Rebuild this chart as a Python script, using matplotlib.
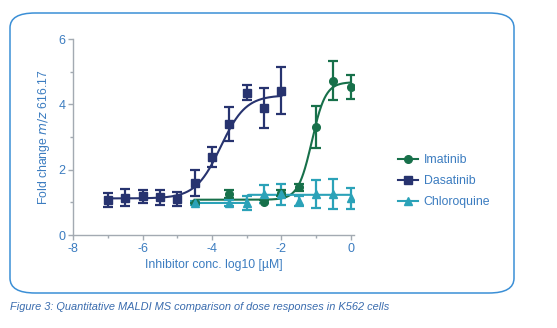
import numpy as np
import matplotlib
matplotlib.use("Agg")
import matplotlib.pyplot as plt
from matplotlib.patches import FancyBboxPatch
from matplotlib.ticker import MultipleLocator

plt.rcParams["font.family"] = ["Liberation Sans", "DejaVu Sans"]
plt.rcParams["axes.unicode_minus"] = False

# Dasatinib
das_x = [-7, -6.5, -6, -5.5, -5, -4.5, -4, -3.5, -3, -2.5, -2]
das_y = [1.08, 1.14, 1.18, 1.15, 1.10, 1.60, 2.38, 3.40, 4.36, 3.88, 4.42]
das_err = [0.22, 0.26, 0.20, 0.22, 0.22, 0.40, 0.30, 0.53, 0.23, 0.61, 0.72]
das_fit = [1.12, 4.28, -3.75, 1.2]  # bottom, top, logEC50, hill

# Imatinib
ima_x = [-4.5, -3.5, -2.5, -2, -1.5, -1, -0.5, 0]
ima_y = [0.99, 1.25, 1.02, 1.28, 1.46, 3.30, 4.72, 4.53]
ima_err = [0.03, 0.12, 0.04, 0.10, 0.10, 0.64, 0.60, 0.36]
ima_fit = [1.08, 4.68, -1.12, 2.2]

# Chloroquine
chl_x = [-4.5, -3.5, -3, -2.5, -2, -1.5, -1, -0.5, 0]
chl_y = [0.98, 0.98, 0.98, 1.25, 1.25, 1.05, 1.25, 1.25, 1.12]
chl_err = [0.05, 0.08, 0.22, 0.27, 0.32, 0.15, 0.42, 0.45, 0.32]
chl_fit = [0.98, 1.23, -3.0, 40]

c_das = "#27336f"
c_ima = "#17704a"
c_chl = "#2ba2b8"
c_txt = "#3b7cc0"
c_axis = "#a3aab2"


def sigmoid(x, p):
    bottom, top, ec50, hill = p
    return bottom + (top - bottom) / (1 + 10 ** ((ec50 - x) * hill))


fig = plt.figure(figsize=(5.57, 3.28), dpi=100)

# rounded frame around the chart
frame = FancyBboxPatch((10 / 557, 1 - 293 / 328), 504 / 557, 280 / 328,
                       boxstyle="round,pad=0,rounding_size=0.045",
                       transform=fig.transFigure, fill=False,
                       edgecolor="#3b8fd6", linewidth=1.1)
fig.patches.append(frame)

ax = fig.add_axes([73.3 / 557, 1 - 235 / 328, 280.9 / 557, 196 / 328])

series = [
    ("Imatinib", ima_x, ima_y, ima_err, ima_fit, c_ima, "o", 5.5),
    ("Dasatinib", das_x, das_y, das_err, das_fit, c_das, "s", 5.5),
    ("Chloroquine", chl_x, chl_y, chl_err, chl_fit, c_chl, "^", 5.5),
]

handles = []
for name, x, y, err, fit, col, mk, ms in series:
    xs = np.linspace(min(x), max(x), 400)
    ax.plot(xs, sigmoid(xs, fit), color=col, lw=1.5, zorder=2)
    ax.errorbar(x, y, yerr=err, fmt=mk, color=col, ms=ms, elinewidth=1.6,
                capsize=3.5, capthick=1.6, zorder=3)
    h, = ax.plot([], [], color=col, marker=mk, ms=ms, lw=1.5, label=name)
    handles.append(h)

ax.set_xlim(-8, 0.1)
ax.set_ylim(0, 6)
ax.xaxis.set_major_locator(MultipleLocator(2))
ax.xaxis.set_minor_locator(MultipleLocator(1))
ax.yaxis.set_major_locator(MultipleLocator(2))
ax.yaxis.set_minor_locator(MultipleLocator(1))

for s in ["top", "right"]:
    ax.spines[s].set_visible(False)
for s in ["left", "bottom"]:
    ax.spines[s].set_color(c_axis)
    ax.spines[s].set_linewidth(1.0)

ax.tick_params(which="both", colors=c_axis, labelcolor=c_txt, labelsize=9,
               direction="out", width=1.0)
ax.tick_params(which="major", length=3.5, pad=2)
ax.tick_params(which="minor", length=2.5)

ax.set_xlabel("Inhibitor conc. log10 [µM]", color=c_txt, fontsize=8.8, labelpad=3)
ax.set_ylabel("Fold change $\\it{m/z}$ 616.17", color=c_txt, fontsize=8.8, labelpad=5)

fig.legend(handles=handles, loc="center left", bbox_to_anchor=(387 / 557, 1 - 181 / 328),
           frameon=False, fontsize=8.8, labelcolor=c_txt, handlelength=1.6,
           handletextpad=0.5, labelspacing=0.75)

fig.text(10 / 557, 1 - 307 / 328,
         "Figure 3: Quantitative MALDI MS comparison of dose responses in K562 cells",
         color="#3a6cae", fontsize=7.9, style="italic", va="center", ha="left")

fig.savefig("out.png", dpi=100, facecolor="white")
